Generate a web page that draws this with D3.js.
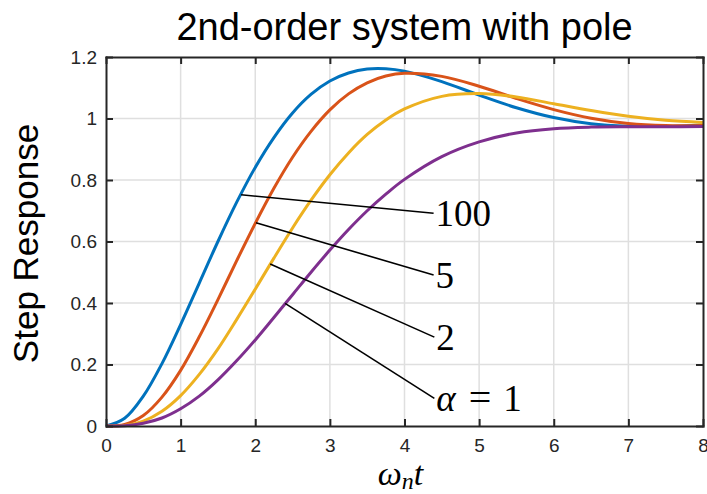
<!DOCTYPE html>
<html>
<head>
<meta charset="utf-8">
<script src="https://cdn.jsdelivr.net/npm/d3@7"></script>
<style>
  body { margin: 0; background: #fff; }
  svg { display: block; }
</style>
</head>
<body>
<svg id="chart" width="707" height="494"></svg>
<script>
// Normalised time samples (ω_n t)
const tValues = [0, 0.25, 0.5, 0.75, 1, 1.25, 1.5, 1.75, 2, 2.25, 2.5, 2.75, 3, 3.25, 3.5, 3.75, 4,
                 4.5, 5, 5.5, 6, 6.5, 7, 7.5, 8];

// Step responses for each extra-pole ratio α
const stepAlpha100 = [0, 0.025, 0.097, 0.203, 0.330, 0.465, 0.600, 0.727, 0.841, 0.938, 1.018, 1.079, 1.122, 1.148, 1.161, 1.162, 1.154,
                      1.120, 1.076, 1.035, 1.003, 0.983, 0.975, 0.974, 0.979];
const stepAlpha5   = [0, 0.005, 0.034, 0.094, 0.181, 0.290, 0.411, 0.537, 0.659, 0.773, 0.874, 0.959, 1.028, 1.080, 1.116, 1.138, 1.147,
                      1.137, 1.105, 1.065, 1.029, 1.001, 0.984, 0.977, 0.977];
const stepAlpha2   = [0, 0.002, 0.016, 0.048, 0.099, 0.168, 0.251, 0.346, 0.445, 0.546, 0.644, 0.735, 0.817, 0.888, 0.948, 0.995, 1.031,
                      1.072, 1.081, 1.070, 1.048, 1.026, 1.007, 0.994, 0.987];
const stepAlpha1   = [0, 0.001, 0.009, 0.026, 0.056, 0.097, 0.150, 0.212, 0.280, 0.353, 0.427, 0.501, 0.572, 0.639, 0.700, 0.754, 0.802,
                      0.876, 0.924, 0.953, 0.967, 0.972, 0.973, 0.973, 0.974];

const seriesValues = [stepAlpha100, stepAlpha5, stepAlpha2, stepAlpha1];
const seriesColors = ["#0072BD", "#D95319", "#EDB120", "#7E2F8E"];

// Axis ticks
const xTicks = [0, 1, 2, 3, 4, 5, 6, 7, 8];
const xTickLabels = ["0", "1", "2", "3", "4", "5", "6", "7", "8"];
const yTicks = [0, 0.2, 0.4, 0.6, 0.8, 1, 1.2];
const yTickLabels = ["0", "0.2", "0.4", "0.6", "0.8", "1", "1.2"];

// Callouts: from a point on a curve out to its α label
const calloutLabels = ["100", "5", "2", "α = 1"];
const calloutFromT  = [1.81, 2.01, 2.20, 2.40];
const calloutFromY  = [0.752, 0.661, 0.527, 0.399];
const calloutToT    = [4.39, 4.39, 4.40, 4.40];
const calloutToY    = [0.692, 0.491, 0.289, 0.090];

const svg = d3.select("#chart");
const plot = { left: 106, right: 703, top: 57, bottom: 426 };

const x = d3.scaleLinear().domain([0, 8]).range([plot.left, plot.right]);
const y = d3.scaleLinear().domain([0, 1.2]).range([plot.bottom, plot.top]);

const axisColor = "#262626";
const sans = "'Liberation Sans', Arial, Helvetica, sans-serif";
const serif = "'Liberation Serif', 'Times New Roman', Times, serif";

// Grid
const grid = svg.append("g").attr("stroke", "#dfdfdf").attr("stroke-width", 1.5);
grid.selectAll("line.gx").data(xTicks.slice(1, -1)).join("line")
  .attr("x1", d => x(d)).attr("x2", d => x(d))
  .attr("y1", plot.top).attr("y2", plot.bottom);
grid.selectAll("line.gy").data(yTicks.slice(1, -1)).join("line")
  .attr("x1", plot.left).attr("x2", plot.right)
  .attr("y1", d => y(d)).attr("y2", d => y(d));

// Curves
const line = d3.line()
  .x((d, i) => x(tValues[i]))
  .y(d => y(d))
  .curve(d3.curveCatmullRom.alpha(0.5));

svg.append("g").selectAll("path").data(seriesValues).join("path")
  .attr("d", d => line(d))
  .attr("fill", "none")
  .attr("stroke", (d, i) => seriesColors[i])
  .attr("stroke-width", 3)
  .attr("stroke-linejoin", "round");

// Axes (ticks point inward on all four sides)
function styleAxis(g) {
  g.selectAll("path.domain").attr("stroke", axisColor).attr("stroke-width", 2).attr("stroke-linecap", "square");
  g.selectAll(".tick line").attr("stroke", axisColor).attr("stroke-width", 2);
  g.selectAll(".tick text").attr("fill", axisColor).attr("font-family", sans).attr("font-size", 19);
}

svg.append("g").attr("transform", `translate(0,${plot.bottom})`)
  .call(d3.axisBottom(x).tickValues(xTicks).tickFormat((d, i) => xTickLabels[i])
        .tickSizeInner(-7).tickSizeOuter(0).tickPadding(13))
  .call(styleAxis);

svg.append("g").attr("transform", `translate(0,${plot.top})`)
  .call(d3.axisTop(x).tickValues(xTicks).tickFormat("")
        .tickSizeInner(-7).tickSizeOuter(0))
  .call(styleAxis);

svg.append("g").attr("transform", `translate(${plot.left},0)`)
  .call(d3.axisLeft(y).tickValues(yTicks).tickFormat((d, i) => yTickLabels[i])
        .tickSizeInner(-7).tickSizeOuter(0).tickPadding(9))
  .call(styleAxis);

svg.append("g").attr("transform", `translate(${plot.right},0)`)
  .call(d3.axisRight(y).tickValues(yTicks).tickFormat("")
        .tickSizeInner(-7).tickSizeOuter(0))
  .call(styleAxis);

// Callout leader lines and labels
const callouts = svg.append("g");
callouts.selectAll("line").data(calloutLabels).join("line")
  .attr("x1", (d, i) => x(calloutFromT[i]))
  .attr("y1", (d, i) => y(calloutFromY[i]))
  .attr("x2", (d, i) => x(calloutToT[i]))
  .attr("y2", (d, i) => y(calloutToY[i]))
  .attr("stroke", "#000")
  .attr("stroke-width", 1.6);

callouts.selectAll("text").data(calloutLabels).join("text")
  .attr("x", (d, i) => x(calloutToT[i]) + 2)
  .attr("y", (d, i) => y(calloutToY[i]))
  .attr("dy", "0.34em")
  .attr("font-family", serif)
  .attr("font-size", 37)
  .attr("fill", "#000")
  .each(function (d) {
    const t = d3.select(this);
    if (d.startsWith("α")) {
      const parts = d.split(" ");
      t.append("tspan").attr("font-style", "italic").text(parts[0]);
      t.append("tspan").attr("dx", 13).attr("font-size", 40).text(parts[1]);
      t.append("tspan").attr("dx", 12).text(parts[2]);
    } else {
      t.text(d);
    }
  });

// Title
svg.append("text")
  .attr("x", (plot.left + plot.right) / 2)
  .attr("y", 40)
  .attr("text-anchor", "middle")
  .attr("font-family", sans)
  .attr("font-size", 38)
  .attr("fill", "#000")
  .text("2nd-order system with pole");

// Y axis title
svg.append("text")
  .attr("transform", `translate(38,${(plot.top + plot.bottom) / 2 + 2}) rotate(-90)`)
  .attr("text-anchor", "middle")
  .attr("font-family", sans)
  .attr("font-size", 35)
  .attr("fill", "#000")
  .text("Step Response");

// X axis title: ω_n t
const xt = svg.append("text")
  .attr("x", (plot.left + plot.right) / 2 - 4)
  .attr("y", 485)
  .attr("text-anchor", "middle")
  .attr("font-family", serif)
  .attr("font-size", 34)
  .attr("font-style", "italic")
  .attr("fill", "#000");
xt.append("tspan").text("ω");
xt.append("tspan").attr("font-size", 24).attr("dy", 4).text("n");
xt.append("tspan").attr("dy", -4).text("t");
</script>
</body>
</html>
